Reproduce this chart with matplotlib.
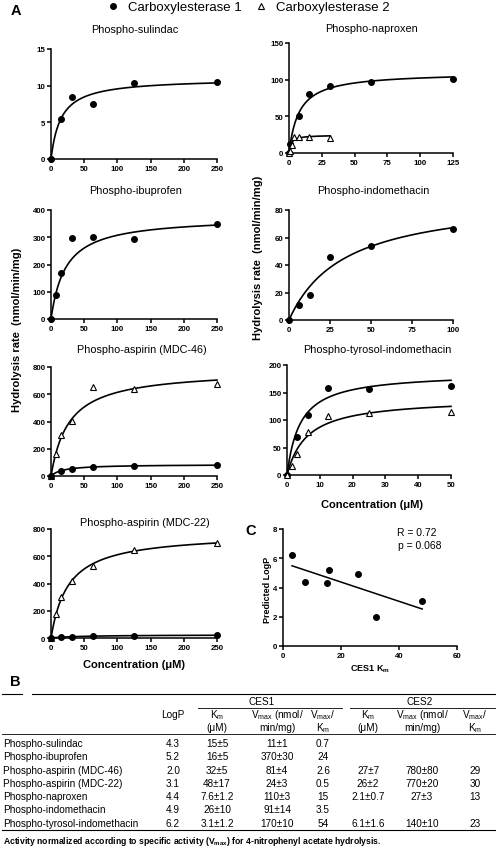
import numpy as np
import matplotlib
matplotlib.use("Agg")
import matplotlib.pyplot as plt
from matplotlib.lines import Line2D

plt.rcParams["font.family"] = ["Liberation Sans", "DejaVu Sans"]
plt.rcParams["mathtext.fontset"] = "custom"
plt.rcParams["mathtext.rm"] = "Liberation Sans"
plt.rcParams["mathtext.bf"] = "Liberation Sans:bold"
plt.rcParams["mathtext.it"] = "Liberation Sans:italic"

W, H = 496, 854

# --------------- datos panel A (concentracion uM, velocidad nmol/min/mg)

sul_conc = [0, 15.6, 31.25, 62.5, 125, 250]
sul_ces1 = [0, 5.4, 8.4, 7.5, 10.3, 10.5]
sul_fit1 = [11, 15]          # vmax, km de la curva

nap_conc1 = [0, 0.98, 7.8, 15.6, 31.25, 62.5, 125]
nap_ces1 = [0, 12, 50, 81, 92, 97, 101]
nap_fit1 = [110, 7.6]
nap_conc2 = [0, 0.98, 1.95, 3.9, 7.8, 15.6, 31.25]
nap_ces2 = [0, 3, 11, 22, 22, 22, 21]
nap_fit2 = [24.5, 1.5]

ibu_conc = [0, 7.8, 15.6, 31.25, 62.5, 125, 250]
ibu_ces1 = [0, 87, 170, 299, 300, 294, 347]
ibu_fit1 = [375, 22]

ind_conc = [0, 6.25, 12.5, 25, 50, 100]
ind_ces1 = [0, 11, 18, 46, 54, 66]
ind_fit1 = [90, 34]

m46_conc1 = [0, 15.6, 31.25, 62.5, 125, 250]
m46_ces1 = [0, 39, 54, 63, 73, 78]
m46_fit1 = [85, 18]
m46_conc2 = [0, 7.8, 15.6, 31.25, 62.5, 125, 250]
m46_ces2 = [0, 158, 302, 402, 656, 637, 678]
m46_fit2 = [780, 27]

tyr_conc1 = [0, 3.1, 6.25, 12.5, 25, 50]
tyr_ces1 = [0, 69, 110, 158, 157, 162]
tyr_fit1 = [186, 4]
tyr_conc2 = [0, 1.56, 3.1, 6.25, 12.5, 25, 50]
tyr_ces2 = [0, 16, 38, 78, 108, 113, 115]
tyr_fit2 = [140, 6.1]

m22_conc1 = [0, 15.6, 31.25, 62.5, 125, 250]
m22_ces1 = [0, 6, 9, 13, 17, 22]
m22_fit1 = [24, 48]
m22_conc2 = [0, 7.8, 15.6, 31.25, 62.5, 125, 250]
m22_ces2 = [0, 173, 300, 422, 527, 649, 700]
m22_fit2 = [770, 26]

# --------------- datos tabla B

nombres = ["Phospho-sulindac", "Phospho-ibuprofen", "Phospho-aspirin (MDC-46)",
           "Phospho-aspirin (MDC-22)", "Phospho-naproxen", "Phospho-indomethacin",
           "Phospho-tyrosol-indomethacin"]
logp = ["4.3", "5.2", "2.0", "3.1", "4.4", "4.9", "6.2"]
ces1_km = ["15±5", "16±5", "32±5", "48±17", "7.6±1.2", "26±10", "3.1±1.2"]
ces1_vmax = ["11±1", "370±30", "81±4", "24±3", "110±3", "91±14", "170±10"]
ces1_ratio = ["0.7", "24", "2.6", "0.5", "15", "3.5", "54"]
ces2_km = ["", "", "27±7", "26±2", "2.1±0.7", "", "6.1±1.6"]
ces2_vmax = ["", "", "780±80", "770±20", "27±3", "", "140±10"]
ces2_ratio = ["", "", "29", "30", "13", "", "23"]

# --------------- datos panel C
km_ces1 = [15, 16, 32, 48, 7.6, 26, 3.1]
logp_val = [4.3, 5.2, 2.0, 3.1, 4.4, 4.9, 6.2]

fig = plt.figure(figsize=(W / 100, H / 100), dpi=100)


def fx(x):
    return x / W


def fy(y):
    return 1 - y / H


def ejes(l, t, r, b, xmax, xticks, ymax, yticks):
    ax = fig.add_axes([fx(l), fy(b), (r - l) / W, (b - t) / H])
    ax.set_xlim(0, xmax)
    ax.set_ylim(0, ymax)
    ax.set_xticks(xticks)
    ax.set_yticks(yticks)
    for s in ["top", "right"]:
        ax.spines[s].set_visible(False)
    for s in ["left", "bottom"]:
        ax.spines[s].set_linewidth(1.1)
    ax.tick_params(length=3, width=1.1, labelsize=5.7, pad=1)
    for lab in ax.get_xticklabels() + ax.get_yticklabels():
        lab.set_fontweight("bold")
    return ax


def serie(ax, conc, vel, fit, tri=False):
    x = np.linspace(0, max(conc), 300)
    ax.plot(x, fit[0] * x / (fit[1] + x), color="black", lw=1.2, zorder=2, clip_on=False)
    if tri:
        ax.plot(conc, vel, "^", ms=4.2, mfc="white", mec="black", mew=0.8, ls="none",
                zorder=3, clip_on=False)
    else:
        ax.plot(conc, vel, "o", ms=4.0, color="black", ls="none", zorder=3, clip_on=False)


def titulo(x, y, txt):
    fig.text(fx(x), fy(y), txt, ha="center", va="center", fontsize=7.8)


# sulindac
ax = ejes(51, 50, 217, 160, 250, [0, 50, 100, 150, 200, 250], 15, [0, 5, 10, 15])
serie(ax, sul_conc, sul_ces1, sul_fit1)
titulo(135, 30, "Phospho-sulindac")

# naproxen
ax = ejes(289, 44, 453, 154, 125, [0, 25, 50, 75, 100, 125], 150, [0, 50, 100, 150])
serie(ax, nap_conc1, nap_ces1, nap_fit1)
serie(ax, nap_conc2, nap_ces2, nap_fit2, tri=True)
titulo(371, 29, "Phospho-naproxen")

# ibuprofen
ax = ejes(51, 211, 217, 320, 250, [0, 50, 100, 150, 200, 250], 400, [0, 100, 200, 300, 400])
serie(ax, ibu_conc, ibu_ces1, ibu_fit1)
titulo(136, 191, "Phospho-ibuprofen")

# indomethacin
ax = ejes(289, 211, 453, 321, 100, [0, 25, 50, 75, 100], 80, [0, 20, 40, 60, 80])
serie(ax, ind_conc, ind_ces1, ind_fit1)
titulo(373, 191, "Phospho-indomethacin")

# MDC-46
ax = ejes(51, 368, 217, 477, 250, [0, 50, 100, 150, 200, 250], 800, [0, 200, 400, 600, 800])
serie(ax, m46_conc2, m46_ces2, m46_fit2, tri=True)
serie(ax, m46_conc1, m46_ces1, m46_fit1)
titulo(142, 350, "Phospho-aspirin (MDC-46)")

# tyrosol-indomethacin
ax = ejes(287, 366, 451, 476, 50, [0, 10, 20, 30, 40, 50], 200, [0, 50, 100, 150, 200])
serie(ax, tyr_conc1, tyr_ces1, tyr_fit1)
serie(ax, tyr_conc2, tyr_ces2, tyr_fit2, tri=True)
titulo(377, 350, "Phospho-tyrosol-indomethacin")

# MDC-22
ax = ejes(51, 530, 217, 639, 250, [0, 50, 100, 150, 200, 250], 800, [0, 200, 400, 600, 800])
serie(ax, m22_conc2, m22_ces2, m22_fit2, tri=True)
serie(ax, m22_conc1, m22_ces1, m22_fit1)
titulo(145, 523, "Phospho-aspirin (MDC-22)")

# etiquetas de ejes compartidas
fig.text(fx(134), fy(665), "Concentration (μM)", ha="center", va="center",
         fontsize=8, fontweight="bold")
fig.text(fx(372), fy(505), "Concentration (μM)", ha="center", va="center",
         fontsize=8, fontweight="bold")
fig.text(fx(17), fy(330), "Hydrolysis rate  (nmol/min/mg)", rotation=90, ha="center",
         va="center", fontsize=8, fontweight="bold")
fig.text(fx(258), fy(258), "Hydrolysis rate  (nmol/min/mg)", rotation=90, ha="center",
         va="center", fontsize=8, fontweight="bold")

# leyenda
h1 = Line2D([], [], marker="o", ms=4.0, color="black", ls="none")
h2 = Line2D([], [], marker="^", ms=4.2, mfc="white", mec="black", mew=0.8, ls="none")
fig.legend([h1, h2], ["Carboxylesterase 1", "Carboxylesterase 2"], loc="upper left",
           bbox_to_anchor=(fx(106), fy(2)), ncol=2, frameon=False, fontsize=9.5,
           handlelength=1.0, handletextpad=0.64, columnspacing=1.0, borderpad=0,
           borderaxespad=0)

# panel C
ax = ejes(283, 530, 457, 647, 60, [0, 20, 40, 60], 8, [0, 2, 4, 6, 8])
ax.plot(km_ces1, logp_val, "o", ms=4.0, color="black", ls="none", zorder=3)
pend, corte = np.polyfit(km_ces1, logp_val, 1)
xr = np.array([min(km_ces1), max(km_ces1)])
ax.plot(xr, pend * xr + corte, color="black", lw=1.1)
fig.text(fx(397), fy(533), "R = 0.72", ha="left", va="center", fontsize=7.5)
fig.text(fx(398), fy(546), "p = 0.068", ha="left", va="center", fontsize=7.5)
fig.text(fx(267), fy(590), "Predicted LogP", rotation=90, ha="center", va="center",
         fontsize=6.5, fontweight="bold")
fig.text(fx(370), fy(669), r"CES1 K$_\mathbf{m}$", ha="center", va="center",
         fontsize=6.5, fontweight="bold")

# letras de panel
fig.text(fx(11), fy(11), "A", ha="left", va="center", fontsize=10.5, fontweight="bold")
fig.text(fx(10), fy(682), "B", ha="left", va="center", fontsize=10.5, fontweight="bold")
fig.text(fx(245), fy(531), "C", ha="left", va="center", fontsize=10.5, fontweight="bold")

# --------------- tabla B


def linea(x0, x1, y, lw=0.8):
    fig.add_artist(Line2D([fx(x0), fx(x1)], [fy(y), fy(y)], color="black", lw=lw))


linea(2, 22, 695)
linea(32, 496, 695)
linea(198, 342, 709, lw=0.6)
linea(350, 496, 709, lw=0.6)
linea(2, 496, 735, lw=0.6)
linea(2, 496, 831)

fs = 7.2
fig.text(fx(262), fy(702), "CES1", ha="center", va="center", fontsize=fs)
fig.text(fx(420), fy(702), "CES2", ha="center", va="center", fontsize=fs)
fig.text(fx(173), fy(715), "LogP", ha="center", va="center", fontsize=fs)

cab_x = [217, 277, 323, 368, 422, 475]
cab_1 = [r"K$_\mathrm{m}$", r"V$_\mathrm{max}$ (nmol/", r"V$_\mathrm{max}$/",
         r"K$_\mathrm{m}$", r"V$_\mathrm{max}$ (nmol/", r"V$_\mathrm{max}$/"]
cab_2 = ["(μM)", "min/mg)", r"K$_\mathrm{m}$", "(μM)", "min/mg)", r"K$_\mathrm{m}$"]
for x, a, b in zip(cab_x, cab_1, cab_2):
    fig.text(fx(x), fy(715), a, ha="center", va="center", fontsize=fs)
    fig.text(fx(x), fy(728), b, ha="center", va="center", fontsize=fs)

cols = [logp, ces1_km, ces1_vmax, ces1_ratio, ces2_km, ces2_vmax, ces2_ratio]
cols_x = [173] + cab_x
for i, nombre in enumerate(nombres):
    y = 744 + i * 13.3
    fig.text(fx(3), fy(y), nombre, ha="left", va="center", fontsize=fs)
    for x, col in zip(cols_x, cols):
        fig.text(fx(x), fy(y), col[i], ha="center", va="center", fontsize=fs)

fig.text(fx(3), fy(842),
         r"Activity normalized according to specific activity (V$_\mathbf{max}$) for 4-nitrophenyl acetate hydrolysis.",
         ha="left", va="center", fontsize=6.2, fontweight="bold")

fig.savefig("out.png", dpi=100)
